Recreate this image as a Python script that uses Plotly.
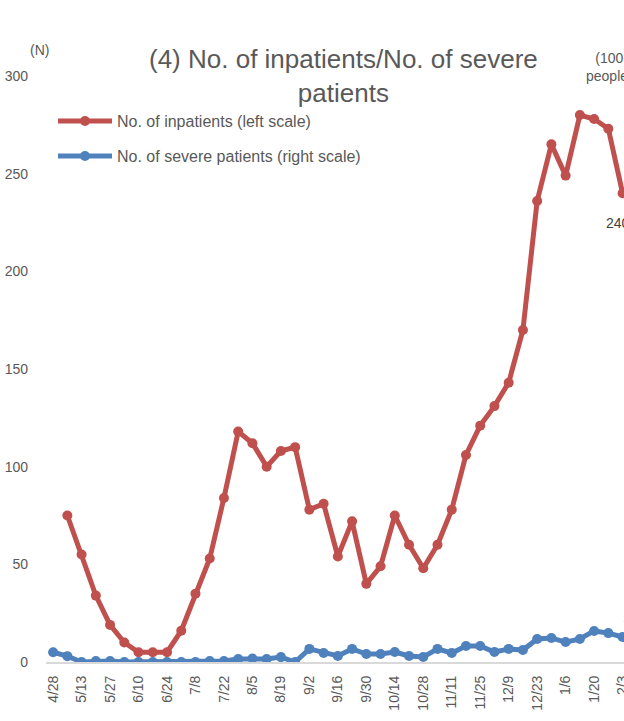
import plotly.graph_objects as go

dates = ["4/28", "5/6", "5/13", "5/20", "5/27", "6/3", "6/10", "6/17", "6/24", "7/1",
         "7/8", "7/15", "7/22", "7/29", "8/5", "8/12", "8/19", "8/26", "9/2", "9/9",
         "9/16", "9/23", "9/30", "10/7", "10/14", "10/21", "10/28", "11/4", "11/11", "11/18",
         "11/25", "12/2", "12/9", "12/16", "12/23", "12/30", "1/6", "1/13", "1/20", "1/27",
         "2/3"]
tick_labels = dates[::2]

inpatients = [None, 75, 55, 34, 19, 10, 5, 5, 5, 16,
              35, 53, 84, 118, 112, 100, 108, 110, 78, 81,
              54, 72, 40, 49, 75, 60, 48, 60, 78, 106,
              121, 131, 143, 170, 236, 265, 249, 280, 278, 273,
              240]
severe = [0.5, 0.3, 0.0, 0.05, 0.05, 0.0, 0.0, 0.0, 0.0, 0.0,
          0.0, 0.05, 0.05, 0.15, 0.18, 0.15, 0.25, 0.0, 0.67, 0.46,
          0.31, 0.67, 0.41, 0.41, 0.51, 0.31, 0.26, 0.67, 0.46, 0.82,
          0.82, 0.51, 0.67, 0.61, 1.18, 1.23, 1.02, 1.18, 1.59, 1.48,
          1.28]

RED = "#C0504D"
BLUE = "#4F81BD"
GRAY = "#595959"
FONT = "Liberation Sans, Arial, sans-serif"

W, H = 624, 721
L, R, T, B = 46, 0, 76, 59
pw = W - L - R
ph = H - T - B

def px(x):
    return (x - L) / pw

def py(y):
    return (H - B - y) / ph

LW = 5
MS = 10

fig = go.Figure()
fig.add_trace(go.Scatter(x=list(range(len(dates))), y=inpatients, mode="lines+markers",
                         line=dict(color=RED, width=LW), marker=dict(color=RED, size=MS),
                         name="No. of inpatients (left scale)", showlegend=False,
                         connectgaps=False))
fig.add_trace(go.Scatter(x=list(range(len(dates))), y=severe, mode="lines+markers",
                         line=dict(color=BLUE, width=LW), marker=dict(color=BLUE, size=MS),
                         name="No. of severe patients (right scale)", showlegend=False,
                         yaxis="y2"))

# manual legend
legend_items = [("No. of inpatients (left scale)", RED, 121),
                ("No. of severe patients (right scale)", BLUE, 156)]
shapes = []
annotations = []
for text, col, yy in legend_items:
    shapes.append(dict(type="line", xref="paper", yref="paper",
                       x0=px(58), x1=px(112), y0=py(yy), y1=py(yy),
                       line=dict(color=col, width=LW)))
    shapes.append(dict(type="circle", xref="paper", yref="paper",
                       xsizemode="pixel", ysizemode="pixel",
                       xanchor=px(85), yanchor=py(yy),
                       x0=-5, x1=5, y0=-5, y1=5,
                       fillcolor=col, line=dict(width=0)))
    annotations.append(dict(text=text, xref="paper", yref="paper", x=px(115), y=py(yy),
                            xanchor="left", yanchor="middle", showarrow=False,
                            font=dict(size=16, color=GRAY, family=FONT)))

annotations.append(dict(text="(4) No. of inpatients/No. of severe<br>patients",
                        xref="paper", yref="paper", x=px(343), y=py(42),
                        xanchor="center", yanchor="top", showarrow=False,
                        font=dict(size=26, color=GRAY, family=FONT)))
annotations.append(dict(text="(N)", xref="paper", yref="paper", x=px(39), y=py(50),
                        xanchor="center", yanchor="middle", showarrow=False,
                        font=dict(size=14, color=GRAY, family=FONT)))
annotations.append(dict(text="(100<br>people)", xref="paper", yref="paper", x=px(609), y=py(48),
                        xanchor="center", yanchor="top", showarrow=False,
                        font=dict(size=14, color=GRAY, family=FONT)))
annotations.append(dict(text=str(inpatients[-1]), xref="x", yref="y", x=len(dates) - 1,
                        y=inpatients[-1], xanchor="center", yanchor="middle",
                        yshift=-30, xshift=-5, showarrow=False,
                        font=dict(size=14, color="#404040", family=FONT)))
annotations.append(dict(text="1.3", xref="x", yref="y2", x=len(dates) - 1,
                        y=severe[-1], xanchor="center", yanchor="middle",
                        yshift=20, xshift=10, showarrow=False,
                        font=dict(size=14, color="#404040", family=FONT)))

fig.update_layout(
    width=W, height=H,
    margin=dict(l=L, r=R, t=T, b=B, pad=0, autoexpand=False),
    paper_bgcolor="white", plot_bgcolor="white",
    font=dict(family=FONT, color=GRAY, size=14),
    xaxis=dict(range=[-0.5, 40.1], tickmode="array",
               tickvals=list(range(0, len(dates), 2)), ticktext=tick_labels,
               tickangle=-90, showgrid=False, zeroline=False,
               showline=True, linecolor="#D9D9D9", linewidth=2,
               ticks="", ticklabelstandoff=6, ticklabeloverflow="allow",
               automargin=False,
               tickfont=dict(size=14, color=GRAY, family=FONT)),
    yaxis=dict(range=[0, 300], tickvals=[0, 50, 100, 150, 200, 250, 300],
               showgrid=False, zeroline=False, showline=False, ticks="",
               ticklabelstandoff=17, automargin=False,
               tickfont=dict(size=14, color=GRAY, family=FONT)),
    yaxis2=dict(range=[0, 30], overlaying="y", side="right", showgrid=False,
                zeroline=False, showline=False, showticklabels=False, ticks="",
                automargin=False),
    shapes=shapes,
    annotations=annotations,
    showlegend=False,
)

fig.write_html("out.html",
               config={"displayModeBar": False},
               post_script="document.body.style.margin='0px';document.body.style.overflow='hidden';")
